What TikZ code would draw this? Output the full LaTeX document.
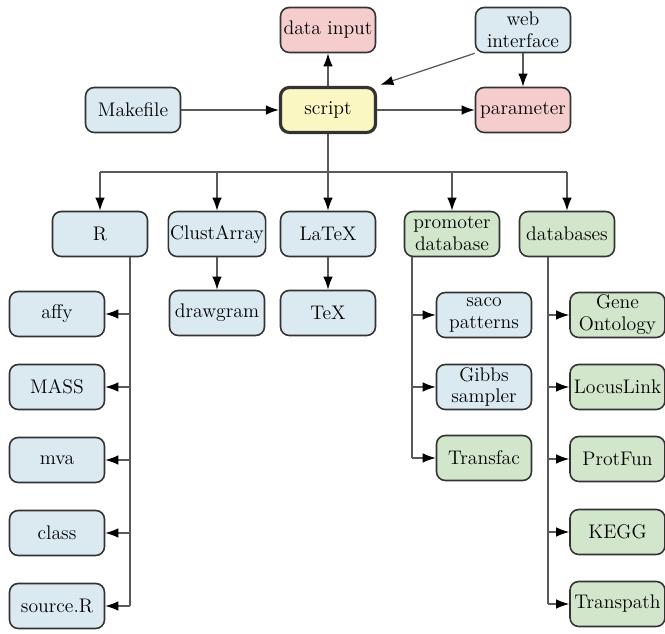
\documentclass[tikz,border=0pt]{standalone}
\usetikzlibrary{arrows.meta}
\definecolor{boxblue}{HTML}{DAEAF0}
\definecolor{boxpink}{HTML}{F6CDCD}
\definecolor{boxyellow}{HTML}{FAF7C2}
\definecolor{boxgreen}{HTML}{D2E6CB}
\begin{document}
\begin{tikzpicture}
    \tikzstyle{box}=[rectangle, rounded corners=5pt, draw=black!80, line width=0.9pt,
                     minimum width=1.9cm, minimum height=0.9cm, inner sep=1pt,
                     align=center, font=\fontsize{11.2}{12.5}\selectfont]
    \tikzstyle{tool}=[box, fill=boxblue]
    \tikzstyle{io}=[box, fill=boxpink]
    \tikzstyle{db}=[box, fill=boxgreen]
    \tikzstyle{line}=[draw=black!65, line width=0.7pt]
    \tikzstyle{arr}=[line, -{Latex[length=2.6mm,width=1.9mm,color=black]}]
    \useasboundingbox (0,0) rectangle (13.3,12.68);

    \node[io]   (datainput) at (6.56,12.08) {data input};
    \node[tool] (web)       at (10.46,12.08) {web\\interface};
    \node[tool] (makefile)  at (2.66,10.48) {Makefile};
    \node[box, fill=boxyellow, line width=1.8pt] (script) at (6.56,10.48) {script};
    \node[io]   (parameter) at (10.46,10.48) {parameter};

    \node[tool] (R)         at (2.0,8.0)   {R};
    \node[tool] (clust)     at (4.34,8.0)  {ClustArray};
    \node[tool] (latex)     at (6.56,8.0)  {LaTeX};
    \node[db]   (promoter)  at (9.04,8.0)  {promoter\\database};
    \node[db]   (databases) at (11.34,8.0) {databases};

    \node[tool] (drawgram)  at (4.34,6.42) {drawgram};
    \node[tool] (tex)       at (6.56,6.42) {TeX};

    \node[tool] (affy)      at (1.14,6.4)  {affy};
    \node[tool] (mass)      at (1.14,4.94) {MASS};
    \node[tool] (mva)       at (1.14,3.48) {mva};
    \node[tool] (class)     at (1.14,2.02) {class};
    \node[tool] (sourceR)   at (1.14,0.56) {source.R};

    \node[tool] (saco)      at (9.68,6.38) {saco\\patterns};
    \node[tool] (gibbs)     at (9.68,4.94) {Gibbs\\sampler};
    \node[db]   (transfac)  at (9.68,3.52) {Transfac};

    \node[db]   (geneonto)  at (12.35,6.38) {Gene\\Ontology};
    \node[db]   (locuslink) at (12.35,4.94) {LocusLink};
    \node[db]   (protfun)   at (12.35,3.5)  {ProtFun};
    \node[db]   (kegg)      at (12.35,2.04) {KEGG};
    \node[db]   (transpath) at (12.35,0.6)  {Transpath};

    \draw[arr] (script) -- (datainput);
    \draw[arr] (makefile) -- (script);
    \draw[arr] (script) -- (parameter);
    \draw[arr] (web) -- (parameter);
    \draw[arr, shorten >=2pt] (web.south west) -- (script.north east);

    \coordinate (split) at (6.56,9.24);
    \draw[line] (script) -- (split);
    \draw[line] (R |- split) -- (databases |- split);
    \foreach \n in {R,clust,latex,promoter,databases}
        \draw[arr] (\n |- split) -- (\n);

    \draw[arr] (clust) -- (drawgram);
    \draw[arr] (latex) -- (tex);

    \coordinate (rbus) at (2.6,0);
    \draw[line] (R.south -| rbus) -- (rbus |- sourceR);
    \foreach \c in {affy,mass,mva,class,sourceR}
        \draw[arr] (rbus |- \c) -- (\c);

    \coordinate (pbus) at (8.24,0);
    \draw[line] (promoter.south -| pbus) -- (pbus |- transfac);
    \foreach \c in {saco,gibbs,transfac}
        \draw[arr] (pbus |- \c) -- (\c);

    \coordinate (dbus) at (10.96,0);
    \draw[line] (databases.south -| dbus) -- (dbus |- transpath);
    \foreach \c in {geneonto,locuslink,protfun,kegg,transpath}
        \draw[arr] (dbus |- \c) -- (\c);
\end{tikzpicture}
\end{document}
